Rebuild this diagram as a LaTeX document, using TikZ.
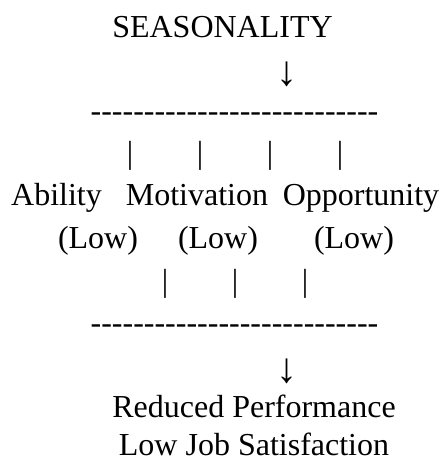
\documentclass[tikz,border=0pt]{standalone}
\usepackage{fontspec}
\setmainfont{Liberation Serif}

% a row of plain hyphens, kept apart so they do not join into dashes
\newcommand\dashline[1]{\foreach \k in {1,...,#1}{-\kern0pt}}

\begin{document}
\begin{tikzpicture}[x=1pt, y=-1pt,
    txt/.style = {inner sep=0pt, anchor=base,
                  font=\fontsize{32}{38}\selectfont},
    downarrow/.style = {txt, font=\fontsize{42}{48}\selectfont}]
      \useasboundingbox (0,0) rectangle (442,461);

      \node[txt] (seasonality) at (222.5,37) {SEASONALITY};
      \node[downarrow] (arrowtop) at (287,85) {↓};
      \node[txt] (dashtop) at (234.5,121.5) {\dashline{27}};

      \foreach \x [count=\i] in {130,200,270,340}
         \node[txt] (pipetop-\i) at (\x,163) {|};

      \node[txt] (ability) at (56.5,205) {Ability};
      \node[txt] (motivation) at (197,205) {Motivation};
      \node[txt] (opportunity) at (361,205) {Opportunity};

      \foreach \x [count=\i] in {98,218,354}
         \node[txt] (low-\i) at (\x,248) {(Low)};

      \foreach \x [count=\i] in {165,235,305}
         \node[txt] (pipebottom-\i) at (\x,291) {|};

      \node[txt] (dashbottom) at (234.5,333) {\dashline{27}};
      \node[downarrow] (arrowbottom) at (287,382) {↓};
      \node[txt] (reduced) at (254,417.7) {Reduced Performance};
      \node[txt] (lowjob) at (254,455.5) {Low Job Satisfaction};
\end{tikzpicture}
\end{document}
